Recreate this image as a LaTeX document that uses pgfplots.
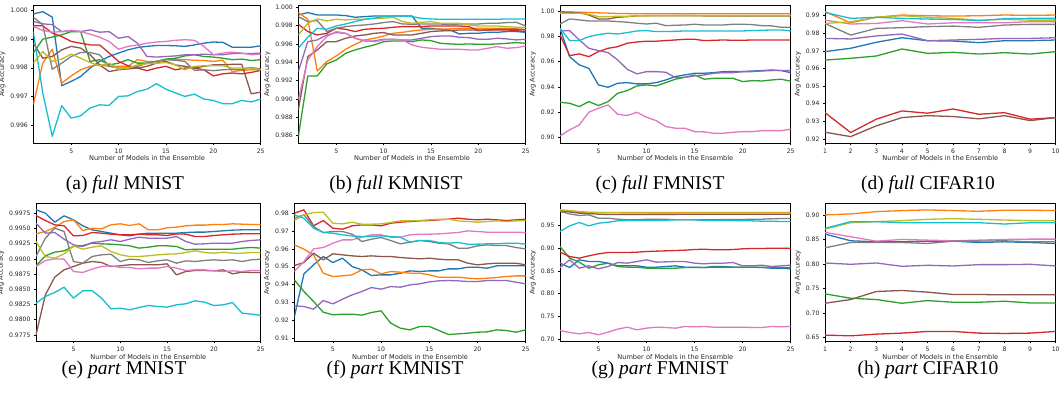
\documentclass[border=0pt]{standalone}
\usepackage{fontspec}
\setmainfont{DejaVu Sans}
\newfontfamily\capfont{Liberation Serif}
\usepackage{pgfplots}
\pgfplotsset{compat=1.18}
\definecolor{c0}{HTML}{1F77B4}
\definecolor{c1}{HTML}{FF7F0E}
\definecolor{c2}{HTML}{2CA02C}
\definecolor{c3}{HTML}{D62728}
\definecolor{c4}{HTML}{9467BD}
\definecolor{c5}{HTML}{8C564B}
\definecolor{c6}{HTML}{E377C2}
\definecolor{c7}{HTML}{7F7F7F}
\definecolor{c8}{HTML}{BCBD22}
\definecolor{c9}{HTML}{17BECF}
\pgfplotsset{
  panel/.style={
    scale only axis, height=138.3pt, anchor=south west,
    axis line style={line width=0.7pt, black},
    tick align=outside, tick pos=left, major tick length=2pt,
    every tick/.style={black, line width=0.5pt},
    ticklabel style={font=\fontsize{6.1}{6.5}\selectfont, text=black!85},
    /pgf/number format/assume math mode=true,
    xlabel={Number of Models in the Ensemble},
    ylabel={Avg Accuracy},
    label style={font=\fontsize{6.6}{7}\selectfont, text=black!85},
    xlabel style={yshift=4.5pt},
    ylabel style={yshift=-2pt},
    every axis plot/.append style={line width=1.3pt, line join=round, mark=none},
    yticklabel style={/pgf/number format/fixed, /pgf/number format/fixed zerofill},
    scaled y ticks=false,
  },
  p25/.style={xmin=1,xmax=25,xtick={5,10,15,20,25}},
  p10/.style={xmin=1,xmax=10,xtick={1,2,3,4,5,6,7,8,9,10}},
}
\begin{document}
\begin{tikzpicture}
\path[use as bounding box] (0pt,0pt) rectangle (1060pt,395pt);
% (a) full MNIST
\begin{axis}[panel,p25,at={(33.3pt,251.7pt)},width=227.4pt,ymin=0.99539,ymax=1.00017,
  ytick={0.996,0.997,0.998,0.999,1.000},yticklabel style={/pgf/number format/precision=3}]
\addplot[c0] coordinates {(1,0.99986)(2,0.99994)(3,0.99975)(4,0.99738)(5,0.99753)(6,0.99770)(7,0.99799)(8,0.99822)(9,0.99839)(10,0.99851)(11,0.99862)(12,0.99870)(13,0.99874)(14,0.99877)(15,0.99877)(16,0.99876)(17,0.99874)(18,0.99879)(19,0.99885)(20,0.99889)(21,0.99888)(22,0.99871)(23,0.99871)(24,0.99871)(25,0.99876)};
\addplot[c1] coordinates {(1,0.99672)(2,0.99816)(3,0.99864)(4,0.99747)(5,0.99772)(6,0.99793)(7,0.99805)(8,0.99810)(9,0.99805)(10,0.99805)(11,0.99805)(12,0.99828)(13,0.99822)(14,0.99822)(15,0.99828)(16,0.99830)(17,0.99828)(18,0.99826)(19,0.99825)(20,0.99822)(21,0.99826)(22,0.99787)(23,0.99791)(24,0.99793)(25,0.99793)};
\addplot[c2] coordinates {(1,0.99851)(2,0.99899)(3,0.99906)(4,0.99914)(5,0.99925)(6,0.99925)(7,0.99822)(8,0.99828)(9,0.99810)(10,0.99816)(11,0.99828)(12,0.99816)(13,0.99816)(14,0.99822)(15,0.99830)(16,0.99833)(17,0.99841)(18,0.99845)(19,0.99839)(20,0.99837)(21,0.99833)(22,0.99828)(23,0.99830)(24,0.99825)(25,0.99828)};
\addplot[c3] coordinates {(1,0.99945)(2,0.99945)(3,0.99920)(4,0.99908)(5,0.99891)(6,0.99885)(7,0.99879)(8,0.99879)(9,0.99851)(10,0.99822)(11,0.99807)(12,0.99799)(13,0.99790)(14,0.99799)(15,0.99805)(16,0.99793)(17,0.99799)(18,0.99799)(19,0.99793)(20,0.99772)(21,0.99779)(22,0.99782)(23,0.99779)(24,0.99784)(25,0.99791)};
\addplot[c4] coordinates {(1,0.99960)(2,0.99952)(3,0.99949)(4,0.99925)(5,0.99929)(6,0.99925)(7,0.99931)(8,0.99923)(9,0.99925)(10,0.99902)(11,0.99908)(12,0.99885)(13,0.99839)(14,0.99837)(15,0.99839)(16,0.99841)(17,0.99845)(18,0.99845)(19,0.99847)(20,0.99845)(21,0.99845)(22,0.99849)(23,0.99849)(24,0.99849)(25,0.99851)};
\addplot[c5] coordinates {(1,0.99885)(2,0.99833)(3,0.99839)(4,0.99862)(5,0.99874)(6,0.99868)(7,0.99845)(8,0.99810)(9,0.99787)(10,0.99793)(11,0.99796)(12,0.99799)(13,0.99805)(14,0.99816)(15,0.99822)(16,0.99810)(17,0.99805)(18,0.99799)(19,0.99805)(20,0.99810)(21,0.99810)(22,0.99812)(23,0.99812)(24,0.99710)(25,0.99716)};
\addplot[c6] coordinates {(1,0.99943)(2,0.99929)(3,0.99923)(4,0.99925)(5,0.99929)(6,0.99925)(7,0.99916)(8,0.99906)(9,0.99891)(10,0.99864)(11,0.99874)(12,0.99879)(13,0.99885)(14,0.99889)(15,0.99891)(16,0.99895)(17,0.99897)(18,0.99895)(19,0.99874)(20,0.99845)(21,0.99851)(22,0.99854)(23,0.99851)(24,0.99845)(25,0.99847)};
\addplot[c7] coordinates {(1,0.99975)(2,0.99949)(3,0.99795)(4,0.99816)(5,0.99839)(6,0.99853)(7,0.99853)(8,0.99845)(9,0.99805)(10,0.99799)(11,0.99799)(12,0.99805)(13,0.99816)(14,0.99822)(15,0.99828)(16,0.99826)(17,0.99822)(18,0.99791)(19,0.99793)(20,0.99790)(21,0.99793)(22,0.99795)(23,0.99793)(24,0.99801)(25,0.99796)};
\addplot[c8] coordinates {(1,0.99816)(2,0.99856)(3,0.99822)(4,0.99830)(5,0.99847)(6,0.99833)(7,0.99818)(8,0.99807)(9,0.99816)(10,0.99795)(11,0.99799)(12,0.99810)(13,0.99814)(14,0.99816)(15,0.99818)(16,0.99810)(17,0.99793)(18,0.99805)(19,0.99807)(20,0.99807)(21,0.99807)(22,0.99799)(23,0.99799)(24,0.99799)(25,0.99793)};
\addplot[c9] coordinates {(1,0.99925)(2,0.99713)(3,0.99563)(4,0.99669)(5,0.99626)(6,0.99634)(7,0.99661)(8,0.99672)(9,0.99670)(10,0.99701)(11,0.99703)(12,0.99718)(13,0.99726)(14,0.99745)(15,0.99726)(16,0.99713)(17,0.99701)(18,0.99709)(19,0.99692)(20,0.99687)(21,0.99676)(22,0.99676)(23,0.99687)(24,0.99682)(25,0.99692)};
\end{axis}
% (b) full KMNIST
\begin{axis}[panel,p25,at={(298.3pt,251.7pt)},width=227.4pt,ymin=0.98516,ymax=1.00025,
  ytick={0.986,0.988,0.990,0.992,0.994,0.996,0.998,1.000},yticklabel style={/pgf/number format/precision=3}]
\addplot[c0] coordinates {(1,0.99916)(2,0.99942)(3,0.99916)(4,0.99916)(5,0.99916)(6,0.99909)(7,0.99891)(8,0.99898)(9,0.99905)(10,0.99905)(11,0.99905)(12,0.99905)(13,0.99905)(14,0.99771)(15,0.99771)(16,0.99760)(17,0.99753)(18,0.99709)(19,0.99716)(20,0.99716)(21,0.99727)(22,0.99727)(23,0.99735)(24,0.99735)(25,0.99727)};
\addplot[c1] coordinates {(1,0.99942)(2,0.99869)(3,0.99305)(4,0.99407)(5,0.99469)(6,0.99542)(7,0.99596)(8,0.99644)(9,0.99662)(10,0.99687)(11,0.99716)(12,0.99727)(13,0.99742)(14,0.99753)(15,0.99760)(16,0.99764)(17,0.99764)(18,0.99771)(19,0.99771)(20,0.99771)(21,0.99771)(22,0.99771)(23,0.99771)(24,0.99764)(25,0.99760)};
\addplot[c2] coordinates {(1,0.98589)(2,0.99251)(3,0.99251)(4,0.99382)(5,0.99425)(6,0.99498)(7,0.99535)(8,0.99564)(9,0.99589)(10,0.99625)(11,0.99633)(12,0.99633)(13,0.99625)(14,0.99644)(15,0.99636)(16,0.99607)(17,0.99600)(18,0.99596)(19,0.99600)(20,0.99596)(21,0.99596)(22,0.99600)(23,0.99607)(24,0.99615)(25,0.99607)};
\addplot[c3] coordinates {(1,0.99815)(2,0.99735)(3,0.99698)(4,0.99716)(5,0.99771)(6,0.99760)(7,0.99735)(8,0.99760)(9,0.99767)(10,0.99771)(11,0.99782)(12,0.99789)(13,0.99789)(14,0.99789)(15,0.99796)(16,0.99796)(17,0.99796)(18,0.99796)(19,0.99789)(20,0.99745)(21,0.99753)(22,0.99753)(23,0.99753)(24,0.99745)(25,0.99735)};
\addplot[c4] coordinates {(1,0.99298)(2,0.99625)(3,0.99644)(4,0.99698)(5,0.99724)(6,0.99716)(7,0.99662)(8,0.99633)(9,0.99633)(10,0.99651)(11,0.99651)(12,0.99644)(13,0.99644)(14,0.99662)(15,0.99680)(16,0.99687)(17,0.99687)(18,0.99673)(19,0.99669)(20,0.99651)(21,0.99651)(22,0.99662)(23,0.99655)(24,0.99644)(25,0.99651)};
\addplot[c5] coordinates {(1,0.98880)(2,0.99462)(3,0.99535)(4,0.99625)(5,0.99625)(6,0.99662)(7,0.99687)(8,0.99698)(9,0.99716)(10,0.99724)(11,0.99698)(12,0.99698)(13,0.99698)(14,0.99716)(15,0.99735)(16,0.99742)(17,0.99745)(18,0.99753)(19,0.99753)(20,0.99753)(21,0.99753)(22,0.99760)(23,0.99760)(24,0.99760)(25,0.99753)};
\addplot[c6] coordinates {(1,0.98989)(2,0.99425)(3,0.99571)(4,0.99680)(5,0.99735)(6,0.99716)(7,0.99662)(8,0.99636)(9,0.99625)(10,0.99644)(11,0.99651)(12,0.99644)(13,0.99589)(14,0.99564)(15,0.99553)(16,0.99542)(17,0.99542)(18,0.99542)(19,0.99535)(20,0.99535)(21,0.99553)(22,0.99571)(23,0.99553)(24,0.99560)(25,0.99578)};
\addplot[c7] coordinates {(1,0.99898)(2,0.99844)(3,0.99855)(4,0.99735)(5,0.99771)(6,0.99789)(7,0.99800)(8,0.99807)(9,0.99818)(10,0.99833)(11,0.99844)(12,0.99818)(13,0.99815)(14,0.99818)(15,0.99818)(16,0.99818)(17,0.99807)(18,0.99818)(19,0.99818)(20,0.99818)(21,0.99825)(22,0.99825)(23,0.99833)(24,0.99836)(25,0.99796)};
\addplot[c8] coordinates {(1,0.99698)(2,0.99825)(3,0.99873)(4,0.99851)(5,0.99869)(6,0.99862)(7,0.99869)(8,0.99869)(9,0.99880)(10,0.99880)(11,0.99891)(12,0.99844)(13,0.99825)(14,0.99836)(15,0.99844)(16,0.99825)(17,0.99825)(18,0.99825)(19,0.99807)(20,0.99796)(21,0.99796)(22,0.99796)(23,0.99789)(24,0.99782)(25,0.99782)};
\addplot[c9] coordinates {(1,0.99553)(2,0.99673)(3,0.99771)(4,0.99760)(5,0.99796)(6,0.99818)(7,0.99844)(8,0.99869)(9,0.99880)(10,0.99898)(11,0.99905)(12,0.99905)(13,0.99898)(14,0.99880)(15,0.99873)(16,0.99869)(17,0.99869)(18,0.99869)(19,0.99869)(20,0.99869)(21,0.99869)(22,0.99869)(23,0.99873)(24,0.99873)(25,0.99873)};
\end{axis}
% (c) full FMNIST
\begin{axis}[panel,p25,at={(560pt,251.7pt)},width=230.7pt,ymin=0.8955,ymax=1.0047,
  ytick={0.90,0.92,0.94,0.96,0.98,1.00},yticklabel style={/pgf/number format/precision=2}]
\addplot[c0] coordinates {(1,0.9863)(2,0.9639)(3,0.9574)(4,0.9547)(5,0.9416)(6,0.9397)(7,0.9429)(8,0.9434)(9,0.9424)(10,0.9424)(11,0.9434)(12,0.9455)(13,0.9482)(14,0.9495)(15,0.9508)(16,0.9508)(17,0.9513)(18,0.9521)(19,0.9521)(20,0.9521)(21,0.9526)(22,0.9529)(23,0.9534)(24,0.9529)(25,0.9513)};
\addplot[c1] coordinates {(1,0.9992)(2,0.9991)(3,0.9990)(4,0.9988)(5,0.9985)(6,0.9983)(7,0.9980)(8,0.9979)(9,0.9978)(10,0.9978)(11,0.9978)(12,0.9978)(13,0.9978)(14,0.9978)(15,0.9978)(16,0.9978)(17,0.9978)(18,0.9978)(19,0.9978)(20,0.9978)(21,0.9978)(22,0.9978)(23,0.9978)(24,0.9978)(25,0.9978)};
\addplot[c2] coordinates {(1,0.9279)(2,0.9271)(3,0.9245)(4,0.9284)(5,0.9253)(6,0.9284)(7,0.9350)(8,0.9371)(9,0.9408)(10,0.9416)(11,0.9408)(12,0.9434)(13,0.9461)(14,0.9476)(15,0.9495)(16,0.9461)(17,0.9468)(18,0.9468)(19,0.9468)(20,0.9442)(21,0.9450)(22,0.9447)(23,0.9455)(24,0.9461)(25,0.9445)};
\addplot[c3] coordinates {(1,0.9811)(2,0.9647)(3,0.9661)(4,0.9639)(5,0.9679)(6,0.9705)(7,0.9718)(8,0.9745)(9,0.9755)(10,0.9761)(11,0.9761)(12,0.9766)(13,0.9771)(14,0.9776)(15,0.9776)(16,0.9766)(17,0.9768)(18,0.9771)(19,0.9768)(20,0.9768)(21,0.9771)(22,0.9771)(23,0.9771)(24,0.9771)(25,0.9771)};
\addplot[c4] coordinates {(1,0.9842)(2,0.9845)(3,0.9771)(4,0.9705)(5,0.9687)(6,0.9671)(7,0.9613)(8,0.9539)(9,0.9503)(10,0.9521)(11,0.9521)(12,0.9516)(13,0.9474)(14,0.9476)(15,0.9487)(16,0.9495)(17,0.9508)(18,0.9513)(19,0.9513)(20,0.9521)(21,0.9521)(22,0.9526)(23,0.9529)(24,0.9529)(25,0.9529)};
\addplot[c5] coordinates {(1,0.9992)(2,0.9989)(3,0.9987)(4,0.9968)(5,0.9937)(6,0.9937)(7,0.9950)(8,0.9955)(9,0.9961)(10,0.9963)(11,0.9963)(12,0.9963)(13,0.9963)(14,0.9963)(15,0.9963)(16,0.9961)(17,0.9961)(18,0.9961)(19,0.9961)(20,0.9961)(21,0.9961)(22,0.9961)(23,0.9961)(24,0.9961)(25,0.9961)};
\addplot[c6] coordinates {(1,0.9013)(2,0.9061)(3,0.9100)(4,0.9200)(5,0.9232)(6,0.9258)(7,0.9184)(8,0.9174)(9,0.9200)(10,0.9161)(11,0.9134)(12,0.9087)(13,0.9074)(14,0.9074)(15,0.9047)(16,0.9045)(17,0.9034)(18,0.9034)(19,0.9042)(20,0.9047)(21,0.9047)(22,0.9055)(23,0.9055)(24,0.9055)(25,0.9066)};
\addplot[c7] coordinates {(1,0.9897)(2,0.9937)(3,0.9929)(4,0.9921)(5,0.9921)(6,0.9921)(7,0.9916)(8,0.9911)(9,0.9903)(10,0.9897)(11,0.9903)(12,0.9884)(13,0.9887)(14,0.9889)(15,0.9895)(16,0.9889)(17,0.9889)(18,0.9889)(19,0.9895)(20,0.9895)(21,0.9892)(22,0.9884)(23,0.9882)(24,0.9871)(25,0.9871)};
\addplot[c8] coordinates {(1,0.9982)(2,0.9982)(3,0.9982)(4,0.9974)(5,0.9955)(6,0.9955)(7,0.9958)(8,0.9958)(9,0.9961)(10,0.9961)(11,0.9962)(12,0.9962)(13,0.9963)(14,0.9963)(15,0.9963)(16,0.9963)(17,0.9963)(18,0.9963)(19,0.9963)(20,0.9963)(21,0.9963)(22,0.9963)(23,0.9963)(24,0.9963)(25,0.9963)};
\addplot[c9] coordinates {(1,0.9863)(2,0.9766)(3,0.9766)(4,0.9797)(5,0.9813)(6,0.9824)(7,0.9818)(8,0.9829)(9,0.9842)(10,0.9845)(11,0.9837)(12,0.9837)(13,0.9839)(14,0.9842)(15,0.9842)(16,0.9842)(17,0.9842)(18,0.9842)(19,0.9842)(20,0.9842)(21,0.9845)(22,0.9847)(23,0.9850)(24,0.9850)(25,0.9842)};
\end{axis}
% (d) full CIFAR10
\begin{axis}[panel,p10,at={(825pt,251.7pt)},width=230.7pt,ymin=0.9175,ymax=0.9961,
  ytick={0.92,0.93,0.94,0.95,0.96,0.97,0.98,0.99},yticklabel style={/pgf/number format/precision=2}]
\addplot[c0] coordinates {(1,0.9696)(2,0.9715)(3,0.9749)(4,0.9775)(5,0.9758)(6,0.9756)(7,0.9747)(8,0.9758)(9,0.9758)(10,0.9762)};
\addplot[c1] coordinates {(1,0.9923)(2,0.9860)(3,0.9891)(4,0.9904)(5,0.9900)(6,0.9898)(7,0.9900)(8,0.9904)(9,0.9902)(10,0.9904)};
\addplot[c2] coordinates {(1,0.9648)(2,0.9658)(3,0.9671)(4,0.9711)(5,0.9686)(6,0.9692)(7,0.9682)(8,0.9690)(9,0.9682)(10,0.9696)};
\addplot[c3] coordinates {(1,0.9349)(2,0.9236)(3,0.9312)(4,0.9359)(5,0.9346)(6,0.9370)(7,0.9340)(8,0.9349)(9,0.9312)(10,0.9321)};
\addplot[c4] coordinates {(1,0.9771)(2,0.9768)(3,0.9785)(4,0.9796)(5,0.9758)(6,0.9762)(7,0.9766)(8,0.9771)(9,0.9771)(10,0.9775)};
\addplot[c5] coordinates {(1,0.9238)(2,0.9213)(3,0.9274)(4,0.9321)(5,0.9332)(6,0.9327)(7,0.9314)(8,0.9332)(9,0.9304)(10,0.9321)};
\addplot[c6] coordinates {(1,0.9875)(2,0.9853)(3,0.9856)(4,0.9872)(5,0.9853)(6,0.9860)(7,0.9860)(8,0.9860)(9,0.9866)(10,0.9866)};
\addplot[c7] coordinates {(1,0.9856)(2,0.9790)(3,0.9828)(4,0.9832)(5,0.9838)(6,0.9841)(7,0.9834)(8,0.9847)(9,0.9851)(10,0.9851)};
\addplot[c8] coordinates {(1,0.9856)(2,0.9866)(3,0.9891)(4,0.9900)(5,0.9891)(6,0.9885)(7,0.9875)(8,0.9879)(9,0.9875)(10,0.9875)};
\addplot[c9] coordinates {(1,0.9919)(2,0.9885)(3,0.9891)(4,0.9885)(5,0.9881)(6,0.9879)(7,0.9872)(8,0.9883)(9,0.9885)(10,0.9885)};
\end{axis}
% (e) part MNIST
\begin{axis}[panel,p25,at={(36pt,53.5pt)},width=224.7pt,ymin=0.9764,ymax=0.99914,
  ytick={0.9775,0.9800,0.9825,0.9850,0.9875,0.9900,0.9925,0.9950,0.9975},yticklabel style={/pgf/number format/precision=4}]
\addplot[c0] coordinates {(1,0.99805)(2,0.99750)(3,0.99602)(4,0.99706)(5,0.99640)(6,0.99542)(7,0.99476)(8,0.99449)(9,0.99421)(10,0.99394)(11,0.99377)(12,0.99405)(13,0.99421)(14,0.99421)(15,0.99421)(16,0.99421)(17,0.99432)(18,0.99438)(19,0.99438)(20,0.99449)(21,0.99460)(22,0.99471)(23,0.99476)(24,0.99476)(25,0.99476)};
\addplot[c1] coordinates {(1,0.99410)(2,0.99449)(3,0.99514)(4,0.99613)(5,0.99640)(6,0.99465)(7,0.99503)(8,0.99492)(9,0.99558)(10,0.99575)(11,0.99547)(12,0.99575)(13,0.99476)(14,0.99476)(15,0.99509)(16,0.99520)(17,0.99542)(18,0.99553)(19,0.99553)(20,0.99564)(21,0.99564)(22,0.99575)(23,0.99569)(24,0.99564)(25,0.99564)};
\addplot[c2] coordinates {(1,0.98884)(2,0.99049)(3,0.99109)(4,0.99131)(5,0.99202)(6,0.99218)(7,0.99257)(8,0.99246)(9,0.99240)(10,0.99229)(11,0.99213)(12,0.99175)(13,0.99191)(14,0.99213)(15,0.99213)(16,0.99202)(17,0.99147)(18,0.99158)(19,0.99158)(20,0.99158)(21,0.99158)(22,0.99158)(23,0.99175)(24,0.99186)(25,0.99175)};
\addplot[c3] coordinates {(1,0.99712)(2,0.99629)(3,0.99558)(4,0.99542)(5,0.99377)(6,0.99383)(7,0.99432)(8,0.99421)(9,0.99405)(10,0.99394)(11,0.99394)(12,0.99405)(13,0.99394)(14,0.99394)(15,0.99383)(16,0.99410)(17,0.99405)(18,0.99366)(19,0.99366)(20,0.99383)(21,0.99394)(22,0.99405)(23,0.99410)(24,0.99410)(25,0.99410)};
\addplot[c4] coordinates {(1,0.99586)(2,0.99421)(3,0.99432)(4,0.99323)(5,0.99229)(6,0.99202)(7,0.99268)(8,0.99284)(9,0.99312)(10,0.99284)(11,0.99323)(12,0.99355)(13,0.99339)(14,0.99339)(15,0.99339)(16,0.99366)(17,0.99284)(18,0.99240)(19,0.99246)(20,0.99257)(21,0.99257)(22,0.99257)(23,0.99284)(24,0.99301)(25,0.99312)};
\addplot[c5] coordinates {(1,0.97750)(2,0.98407)(3,0.98698)(4,0.98818)(5,0.98873)(6,0.98928)(7,0.98955)(8,0.98939)(9,0.98873)(10,0.98884)(11,0.98901)(12,0.98901)(13,0.98901)(14,0.98901)(15,0.98917)(16,0.98736)(17,0.98791)(18,0.98807)(19,0.98807)(20,0.98802)(21,0.98818)(22,0.98753)(23,0.98780)(24,0.98775)(25,0.98775)};
\addplot[c6] coordinates {(1,0.98873)(2,0.98972)(3,0.98999)(4,0.98994)(5,0.98791)(6,0.98775)(7,0.98830)(8,0.98873)(9,0.98884)(10,0.98857)(11,0.98857)(12,0.98835)(13,0.98846)(14,0.98846)(15,0.98873)(16,0.98846)(17,0.98807)(18,0.98818)(19,0.98818)(20,0.98802)(21,0.98791)(22,0.98802)(23,0.98791)(24,0.98807)(25,0.98807)};
\addplot[c7] coordinates {(1,0.99038)(2,0.99339)(3,0.99503)(4,0.99449)(5,0.98955)(6,0.98928)(7,0.99038)(8,0.99065)(9,0.99076)(10,0.98955)(11,0.98994)(12,0.98983)(13,0.98939)(14,0.98966)(15,0.98983)(16,0.98928)(17,0.98966)(18,0.98955)(19,0.98972)(20,0.98983)(21,0.98972)(22,0.98983)(23,0.98955)(24,0.98983)(25,0.98994)};
\addplot[c8] coordinates {(1,0.99284)(2,0.99038)(3,0.99010)(4,0.99081)(5,0.99213)(6,0.99158)(7,0.99191)(8,0.99213)(9,0.99120)(10,0.99065)(11,0.99038)(12,0.99038)(13,0.99049)(14,0.99065)(15,0.99076)(16,0.99081)(17,0.99103)(18,0.99131)(19,0.99103)(20,0.99092)(21,0.99109)(22,0.99092)(23,0.99092)(24,0.99103)(25,0.99103)};
\addplot[c9] coordinates {(1,0.98270)(2,0.98380)(3,0.98446)(4,0.98533)(5,0.98353)(6,0.98473)(7,0.98473)(8,0.98353)(9,0.98177)(10,0.98188)(11,0.98161)(12,0.98199)(13,0.98232)(14,0.98216)(15,0.98205)(16,0.98243)(17,0.98260)(18,0.98309)(19,0.98287)(20,0.98232)(21,0.98243)(22,0.98281)(23,0.98106)(24,0.98090)(25,0.98068)};
\end{axis}
% (f) part KMNIST
\begin{axis}[panel,p25,at={(294.3pt,53.5pt)},width=231.4pt,ymin=0.90817,ymax=0.9856,
  ytick={0.91,0.92,0.93,0.94,0.95,0.96,0.97,0.98},yticklabel style={/pgf/number format/precision=2}]
\addplot[c0] coordinates {(1,0.92178)(2,0.94604)(3,0.95108)(4,0.95574)(5,0.95238)(6,0.95481)(7,0.95014)(8,0.94828)(9,0.94511)(10,0.94548)(11,0.94548)(12,0.94641)(13,0.94772)(14,0.94735)(15,0.94772)(16,0.94772)(17,0.94884)(18,0.94884)(19,0.94977)(20,0.94977)(21,0.94921)(22,0.95052)(23,0.95052)(24,0.95052)(25,0.95052)};
\addplot[c1] coordinates {(1,0.96227)(2,0.95985)(3,0.95668)(4,0.94642)(5,0.94455)(6,0.94492)(7,0.94548)(8,0.94828)(9,0.94866)(10,0.94604)(11,0.94735)(12,0.94698)(13,0.94642)(14,0.94642)(15,0.94548)(16,0.94418)(17,0.94418)(18,0.94418)(19,0.94362)(20,0.94324)(21,0.94362)(22,0.94399)(23,0.94455)(24,0.94492)(25,0.94492)};
\addplot[c2] coordinates {(1,0.94268)(2,0.93615)(3,0.93055)(4,0.92458)(5,0.92309)(6,0.92346)(7,0.92346)(8,0.92290)(9,0.92439)(10,0.92533)(11,0.91842)(12,0.91562)(13,0.91469)(14,0.91656)(15,0.91656)(16,0.91432)(17,0.91208)(18,0.91245)(19,0.91282)(20,0.91338)(21,0.91357)(22,0.91469)(23,0.91432)(24,0.91338)(25,0.91469)};
\addplot[c3] coordinates {(1,0.98000)(2,0.98187)(3,0.97291)(4,0.97590)(5,0.97160)(6,0.97104)(7,0.97291)(8,0.97347)(9,0.97347)(10,0.97291)(11,0.97440)(12,0.97496)(13,0.97534)(14,0.97571)(15,0.97590)(16,0.97627)(17,0.97664)(18,0.97720)(19,0.97664)(20,0.97627)(21,0.97664)(22,0.97627)(23,0.97590)(24,0.97627)(25,0.97664)};
\addplot[c4] coordinates {(1,0.92813)(2,0.92776)(3,0.92626)(4,0.93111)(5,0.92925)(6,0.93186)(7,0.93428)(8,0.93615)(9,0.93839)(10,0.93746)(11,0.93895)(12,0.93858)(13,0.93988)(14,0.94044)(15,0.94156)(16,0.94212)(17,0.94231)(18,0.94212)(19,0.94175)(20,0.94175)(21,0.94231)(22,0.94231)(23,0.94231)(24,0.94138)(25,0.94044)};
\addplot[c5] coordinates {(1,0.95070)(2,0.95238)(3,0.95760)(4,0.95388)(5,0.95724)(6,0.95668)(7,0.95612)(8,0.95574)(9,0.95612)(10,0.95574)(11,0.95574)(12,0.95518)(13,0.95481)(14,0.95444)(15,0.95481)(16,0.95425)(17,0.95388)(18,0.95388)(19,0.95201)(20,0.95108)(21,0.95164)(22,0.95201)(23,0.95201)(24,0.95201)(25,0.95108)};
\addplot[c6] coordinates {(1,0.94735)(2,0.95294)(3,0.96003)(4,0.96078)(5,0.96321)(6,0.96507)(7,0.96507)(8,0.96656)(9,0.96787)(10,0.96787)(11,0.96656)(12,0.96656)(13,0.96787)(14,0.96824)(15,0.96824)(16,0.96843)(17,0.96880)(18,0.96918)(19,0.97011)(20,0.96974)(21,0.96936)(22,0.96936)(23,0.96936)(24,0.96936)(25,0.96918)};
\addplot[c7] coordinates {(1,0.97720)(2,0.97907)(3,0.97254)(4,0.96918)(5,0.96974)(6,0.96974)(7,0.96824)(8,0.96414)(9,0.96544)(10,0.96638)(11,0.96470)(12,0.96283)(13,0.96377)(14,0.96470)(15,0.96414)(16,0.96321)(17,0.96283)(18,0.96041)(19,0.96041)(20,0.96171)(21,0.96227)(22,0.96190)(23,0.96190)(24,0.96078)(25,0.96003)};
\addplot[c8] coordinates {(1,0.97590)(2,0.97907)(3,0.98037)(4,0.98056)(5,0.97440)(6,0.97403)(7,0.97496)(8,0.97384)(9,0.97384)(10,0.97403)(11,0.97478)(12,0.97571)(13,0.97571)(14,0.97590)(15,0.97627)(16,0.97664)(17,0.97664)(18,0.97571)(19,0.97534)(20,0.97496)(21,0.97534)(22,0.97571)(23,0.97534)(24,0.97571)(25,0.97590)};
\addplot[c9] coordinates {(1,0.97907)(2,0.97720)(3,0.97160)(4,0.96918)(5,0.96880)(6,0.96787)(7,0.96731)(8,0.96694)(9,0.96694)(10,0.96731)(11,0.96694)(12,0.96656)(13,0.96377)(14,0.96470)(15,0.96470)(16,0.96358)(17,0.96321)(18,0.96358)(19,0.96265)(20,0.96265)(21,0.96284)(22,0.96284)(23,0.96321)(24,0.96321)(25,0.96265)};
\end{axis}
% (g) part FMNIST
\begin{axis}[panel,p25,at={(560pt,53.5pt)},width=230.7pt,ymin=0.6949,ymax=0.9991,
  ytick={0.70,0.75,0.80,0.85,0.90,0.95},yticklabel style={/pgf/number format/precision=2}]
\addplot[c0] coordinates {(1,0.8672)(2,0.8576)(3,0.8745)(4,0.8708)(5,0.8708)(6,0.8672)(7,0.8613)(8,0.8613)(9,0.8613)(10,0.8584)(11,0.8584)(12,0.8598)(13,0.8613)(14,0.8584)(15,0.8584)(16,0.8576)(17,0.8598)(18,0.8598)(19,0.8584)(20,0.8584)(21,0.8584)(22,0.8576)(23,0.8562)(24,0.8562)(25,0.8547)};
\addplot[c1] coordinates {(1,0.9830)(2,0.9808)(3,0.9793)(4,0.9786)(5,0.9786)(6,0.9786)(7,0.9786)(8,0.9786)(9,0.9786)(10,0.9786)(11,0.9786)(12,0.9786)(13,0.9786)(14,0.9786)(15,0.9786)(16,0.9786)(17,0.9786)(18,0.9786)(19,0.9786)(20,0.9786)(21,0.9786)(22,0.9786)(23,0.9786)(24,0.9786)(25,0.9786)};
\addplot[c2] coordinates {(1,0.9038)(2,0.8782)(3,0.8694)(4,0.8562)(5,0.8635)(6,0.8672)(7,0.8598)(8,0.8584)(9,0.8584)(10,0.8562)(11,0.8562)(12,0.8562)(13,0.8562)(14,0.8576)(15,0.8576)(16,0.8576)(17,0.8584)(18,0.8584)(19,0.8584)(20,0.8584)(21,0.8584)(22,0.8584)(23,0.8584)(24,0.8576)(25,0.8576)};
\addplot[c3] coordinates {(1,0.8914)(2,0.8818)(3,0.8782)(4,0.8833)(5,0.8877)(6,0.8906)(7,0.8906)(8,0.8906)(9,0.8914)(10,0.8928)(11,0.8936)(12,0.8943)(13,0.8950)(14,0.8958)(15,0.8972)(16,0.8980)(17,0.8965)(18,0.8965)(19,0.8972)(20,0.8987)(21,0.8994)(22,0.8994)(23,0.9001)(24,0.9001)(25,0.9001)};
\addplot[c4] coordinates {(1,0.8576)(2,0.8745)(3,0.8562)(4,0.8613)(5,0.8547)(6,0.8598)(7,0.8686)(8,0.8672)(9,0.8708)(10,0.8745)(11,0.8694)(12,0.8701)(13,0.8708)(14,0.8708)(15,0.8672)(16,0.8657)(17,0.8672)(18,0.8672)(19,0.8686)(20,0.8613)(21,0.8613)(22,0.8628)(23,0.8598)(24,0.8613)(25,0.8628)};
\addplot[c5] coordinates {(1,0.9823)(2,0.9800)(3,0.9771)(4,0.9764)(5,0.9750)(6,0.9742)(7,0.9742)(8,0.9742)(9,0.9742)(10,0.9745)(11,0.9745)(12,0.9745)(13,0.9745)(14,0.9748)(15,0.9748)(16,0.9748)(17,0.9748)(18,0.9750)(19,0.9750)(20,0.9750)(21,0.9750)(22,0.9750)(23,0.9750)(24,0.9750)(25,0.9750)};
\addplot[c6] coordinates {(1,0.7191)(2,0.7147)(3,0.7118)(4,0.7147)(5,0.7096)(6,0.7155)(7,0.7220)(8,0.7264)(9,0.7206)(10,0.7242)(11,0.7264)(12,0.7257)(13,0.7242)(14,0.7279)(15,0.7272)(16,0.7279)(17,0.7264)(18,0.7264)(19,0.7264)(20,0.7264)(21,0.7257)(22,0.7257)(23,0.7279)(24,0.7272)(25,0.7279)};
\addplot[c7] coordinates {(1,0.9808)(2,0.9757)(3,0.9720)(4,0.9735)(5,0.9661)(6,0.9661)(7,0.9639)(8,0.9625)(9,0.9625)(10,0.9639)(11,0.9639)(12,0.9639)(13,0.9625)(14,0.9625)(15,0.9625)(16,0.9625)(17,0.9625)(18,0.9632)(19,0.9632)(20,0.9632)(21,0.9639)(22,0.9639)(23,0.9647)(24,0.9654)(25,0.9654)};
\addplot[c8] coordinates {(1,0.9845)(2,0.9830)(3,0.9808)(4,0.9793)(5,0.9786)(6,0.9779)(7,0.9779)(8,0.9776)(9,0.9776)(10,0.9776)(11,0.9776)(12,0.9776)(13,0.9776)(14,0.9776)(15,0.9776)(16,0.9776)(17,0.9776)(18,0.9776)(19,0.9776)(20,0.9776)(21,0.9776)(22,0.9776)(23,0.9776)(24,0.9776)(25,0.9776)};
\addplot[c9] coordinates {(1,0.9368)(2,0.9493)(3,0.9566)(4,0.9493)(5,0.9551)(6,0.9573)(7,0.9603)(8,0.9610)(9,0.9610)(10,0.9610)(11,0.9610)(12,0.9617)(13,0.9625)(14,0.9625)(15,0.9625)(16,0.9610)(17,0.9610)(18,0.9610)(19,0.9610)(20,0.9603)(21,0.9603)(22,0.9595)(23,0.9595)(24,0.9588)(25,0.9588)};
\end{axis}
% (h) part CIFAR10
\begin{axis}[panel,p10,at={(825pt,53.5pt)},width=230.7pt,ymin=0.6418,ymax=0.9240,
  ytick={0.65,0.70,0.75,0.80,0.85,0.90},yticklabel style={/pgf/number format/precision=2}]
\addplot[c0] coordinates {(1,0.8610)(2,0.8473)(3,0.8452)(4,0.8452)(5,0.8466)(6,0.8466)(7,0.8438)(8,0.8452)(9,0.8438)(10,0.8418)};
\addplot[c1] coordinates {(1,0.9000)(2,0.9021)(3,0.9068)(4,0.9089)(5,0.9103)(6,0.9089)(7,0.9075)(8,0.9096)(9,0.9096)(10,0.9089)};
\addplot[c2] coordinates {(1,0.7390)(2,0.7301)(3,0.7274)(4,0.7198)(5,0.7253)(6,0.7219)(7,0.7219)(8,0.7240)(9,0.7205)(10,0.7205)};
\addplot[c3] coordinates {(1,0.6548)(2,0.6534)(3,0.6568)(4,0.6589)(5,0.6623)(6,0.6623)(7,0.6589)(8,0.6582)(9,0.6589)(10,0.6623)};
\addplot[c4] coordinates {(1,0.8020)(2,0.7993)(3,0.8020)(4,0.7952)(5,0.7973)(6,0.7959)(7,0.7986)(8,0.7986)(9,0.7993)(10,0.7959)};
\addplot[c5] coordinates {(1,0.7198)(2,0.7274)(3,0.7438)(4,0.7459)(5,0.7425)(6,0.7377)(7,0.7377)(8,0.7370)(9,0.7370)(10,0.7370)};
\addplot[c6] coordinates {(1,0.8644)(2,0.8555)(3,0.8466)(4,0.8500)(5,0.8486)(6,0.8473)(7,0.8486)(8,0.8500)(9,0.8507)(10,0.8507)};
\addplot[c7] coordinates {(1,0.8329)(2,0.8438)(3,0.8438)(4,0.8438)(5,0.8418)(6,0.8466)(7,0.8466)(8,0.8473)(9,0.8452)(10,0.8452)};
\addplot[c8] coordinates {(1,0.8712)(2,0.8842)(3,0.8863)(4,0.8884)(5,0.8911)(6,0.8925)(7,0.8911)(8,0.8897)(9,0.8884)(10,0.8884)};
\addplot[c9] coordinates {(1,0.8726)(2,0.8863)(3,0.8863)(4,0.8842)(5,0.8842)(6,0.8842)(7,0.8842)(8,0.8815)(9,0.8842)(10,0.8842)};
\end{axis}
% captions
\begin{scope}[every node/.style={font=\capfont\fontsize{19.5}{22}\selectfont, inner sep=0pt}]
\node at (125pt,210pt) {(a) \textit{full} MNIST};
\node at (396pt,210pt) {(b) \textit{full} KMNIST};
\node at (660pt,210pt) {(c) \textit{full} FMNIST};
\node at (928pt,210pt) {(d) \textit{full} CIFAR10};
\node at (124pt,25pt) {(e) \textit{part} MNIST};
\node at (395pt,25pt) {(f) \textit{part} KMNIST};
\node at (660pt,25pt) {(g) \textit{part} FMNIST};
\node at (928pt,25pt) {(h) \textit{part} CIFAR10};
\end{scope}
\end{tikzpicture}
\end{document}
